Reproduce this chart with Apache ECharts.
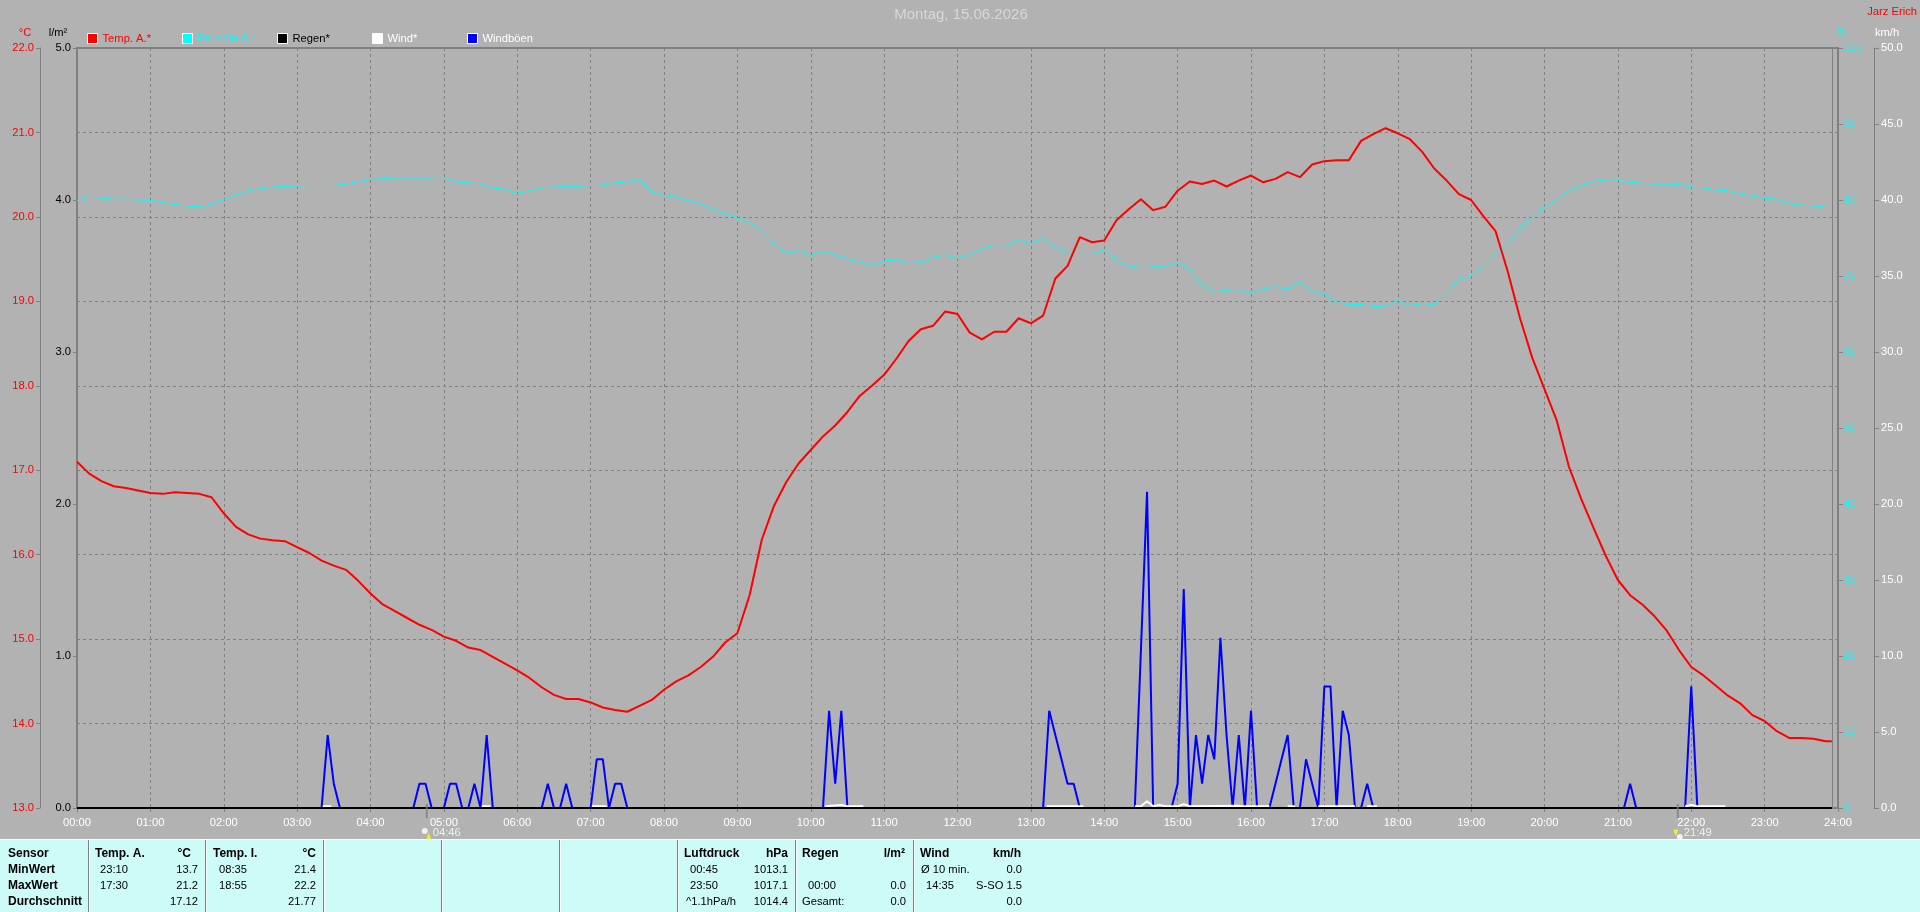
<!DOCTYPE html>
<html>
<head>
<meta charset="utf-8">
<title>Wetter</title>
<style>html,body{margin:0;padding:0;background:#b2b2b2}#c{width:1920px;height:912px}</style>
<script src="https://cdn.jsdelivr.net/npm/echarts@6/dist/echarts.min.js"></script>
</head>
<body>
<div id="c"></div>
<script>
const sampleMinutes = Array.from({length:144},(_,i)=>i*10).concat(1435);
const temperature = [
17.10,16.96,16.87,16.81,16.79,16.76,
16.73,16.72,16.74,16.73,16.72,16.68,
16.49,16.33,16.24,16.19,16.17,16.16,
16.09,16.02,15.93,15.87,15.82,15.69,
15.54,15.41,15.33,15.25,15.17,15.11,
15.03,14.98,14.90,14.87,14.79,14.71,
14.63,14.54,14.43,14.34,14.29,14.29,
14.25,14.19,14.16,14.14,14.21,14.28,
14.40,14.50,14.57,14.67,14.79,14.96,
15.07,15.52,16.18,16.58,16.86,17.08,
17.24,17.40,17.53,17.69,17.88,18.00,
18.13,18.32,18.53,18.67,18.71,18.88,
18.85,18.63,18.55,18.64,18.64,18.80,
18.74,18.83,19.27,19.42,19.76,19.70,
19.72,19.96,20.09,20.21,20.08,20.12,
20.31,20.42,20.39,20.43,20.36,20.43,
20.49,20.41,20.45,20.53,20.47,20.62,
20.66,20.67,20.67,20.90,20.98,21.05,
20.99,20.92,20.77,20.57,20.43,20.27,
20.20,20.01,19.83,19.35,18.80,18.33,
17.96,17.59,17.04,16.66,16.32,15.99,
15.70,15.52,15.41,15.27,15.10,14.87,
14.67,14.57,14.45,14.33,14.24,14.10,
14.03,13.91,13.83,13.83,13.82,13.79,13.79];
const humidity = [
79.96,80.35,80.25,80.1,80.1,80.0,
79.96,79.67,79.4,79.2,79.1,79.4,
80.0,80.6,81.2,81.5,81.7,81.8,
81.85,81.9,81.9,81.9,82.1,82.4,
82.7,82.8,82.9,82.9,82.9,82.9,
83.0,82.4,82.25,82.15,81.6,81.4,
80.85,81.2,81.6,81.7,81.8,81.8,
81.9,81.95,82.25,82.4,82.7,81.1,
80.6,80.35,79.91,79.43,78.79,78.11,
77.63,77.0,76.02,74.22,72.95,73.34,
72.66,73.24,72.76,72.17,71.88,71.35,
71.98,72.12,71.64,71.73,72.47,72.76,
72.37,72.76,73.58,74.02,73.97,74.7,
74.22,74.95,73.83,72.95,72.95,72.95,
73.44,72.12,71.15,71.39,71.3,71.15,
71.78,70.81,68.86,67.89,68.13,68.23,
67.64,68.3,68.58,68.3,69.24,68.03,
67.58,66.48,66.25,66.25,65.98,66.03,
66.81,66.09,66.37,66.25,67.64,69.58,
69.97,71.24,72.9,74.12,76.22,77.72,
79.1,79.93,81.21,81.87,82.43,82.65,
82.65,82.31,82.2,82.09,82.09,82.04,
81.71,81.6,81.32,81.21,80.76,80.49,
80.21,80.1,79.55,79.32,79.21,79.05,79.0];
const rainTimes = ['00:00','23:55'];
const rainValues = [0,0];
const gustTimes = [
'03:20','03:25','03:30','03:35',
'04:35','04:40','04:45','04:50',
'05:00','05:05','05:10','05:15','05:20','05:25','05:30','05:35','05:40',
'06:20','06:25','06:30','06:35','06:40','06:45',
'07:00','07:05','07:10','07:15','07:20','07:25','07:30',
'10:10','10:15','10:20','10:25','10:30',
'13:10','13:15','13:20','13:25','13:30','13:35','13:40',
'14:25','14:30','14:35','14:40',
'14:55','15:00','15:05','15:10','15:15','15:20','15:25','15:30','15:35','15:40','15:45','15:50','15:55','16:00','16:05',
'16:15','16:20','16:25','16:30','16:35',
'16:40','16:45','16:50','16:55','17:00','17:05','17:10','17:15','17:20','17:25',
'17:30','17:35','17:40',
'21:05','21:10','21:15',
'21:55','22:00','22:05'];
const gustValues = [
0,4.8,1.6,0,
0,1.6,1.6,0,
0,1.6,1.6,0,0,1.6,0,4.8,0,
0,1.6,0,0,1.6,0,
0,3.2,3.2,0,1.6,1.6,0,
0,6.4,1.6,6.4,0,
0,6.4,4.8,3.2,1.6,1.6,0,
0,10.4,20.8,0,
0,1.6,14.4,0,4.8,1.6,4.8,3.2,11.2,4.8,0,4.8,0,6.4,0,
0,1.6,3.2,4.8,0,
0,3.2,1.6,0,8,8,0,6.4,4.8,0,
0,1.6,0,
0,1.6,0,
0,8,0];
const windTimes = ['03:21','03:28','03:29','05:31','05:38','05:39','07:01','07:13','07:14',
'10:12','10:25','10:30','10:43','10:44','13:13','13:43','13:44',
'14:25','14:30','14:35','14:40','14:45','14:50','15:00','15:05','15:10','15:50','15:52','15:55','16:15','16:16',
'16:30','16:36','16:37','16:55','17:25','17:26','17:35','17:43','17:44','21:55','22:00','22:05','22:28'];
const windValues = [0.12,0.12,null,0.12,0.12,null,0.12,0.12,null,
0.12,0.2,0.12,0.12,null,0.12,0.12,null,
0.12,0.12,0.45,0.12,0.2,0.12,0.12,0.25,0.12,0.15,0.12,0.12,0.12,null,
0.12,0.12,null,0.12,0.12,null,0.12,0.12,null,0.12,0.2,0.12,0.12];
const sunEventTimes = ['04:46','21:49'];
const hourTicks = 60;

const legendNames = ['Temp. A.*','Feuchte A.*','Regen*','Wind*','Windböen'];
const legendColors = ['#ff0000','#00ffff','#000000','#ffffff','#0000ff'];
const legendTextColors = ['#ff0000','#00ffff','#000000','#ffffff','#ffffff'];

const sensorColumn = ['Sensor','MinWert','MaxWert','Durchschnitt'];
const tempAHeader = ['Temp. A.','°C'], tempATimes = ['23:10','17:30',''], tempAValues = ['13.7','21.2','17.12'];
const tempIHeader = ['Temp. I.','°C'], tempITimes = ['08:35','18:55',''], tempIValues = ['21.4','22.2','21.77'];
const pressHeader = ['Luftdruck','hPa'], pressTimes = ['00:45','23:50','^1.1hPa/h'], pressValues = ['1013.1','1017.1','1014.4'];
const rainHeader = ['Regen','l/m²'], rainTableTimes = ['','00:00','Gesamt:'], rainTableValues = ['','0.0','0.0'];
const windHeader = ['Wind','km/h'], windTableTimes = ['Ø 10 min.','14:35',''], windTableValues = ['0.0','S-SO 1.5','0.0'];

const FONT = '"Liberation Sans",Arial,sans-serif';
const FS = 11.2;
const GREY = '#808080', BG = '#b2b2b2', PANEL = '#ccfbf8';

const toMin = t => { const [h,m]=t.split(':').map(Number); return h*60+m; };
const pad = n => String(n).padStart(2,'0');
const pairs = (xs,ys) => xs.map((x,i)=>[typeof x==='string'?toMin(x):x, ys[i]]);

function txt(text,x,y,opts){
  return Object.assign({type:'text',silent:true,style:Object.assign({text,x,y,fill:'#000',font:FS+'px '+FONT,textAlign:'left',textVerticalAlign:'middle'},opts||{})});
}
const rowY=[854,870,886,902];
function block(left,right,header,times,timeXs,values,valRight){
  const out=[];
  out.push(txt(header[0],left,rowY[0],{font:'bold 12px '+FONT}));
  out.push(txt(header[1],right,rowY[0],{font:'bold 12px '+FONT,textAlign:'right'}));
  times.forEach((t,i)=>{ if(t) out.push(txt(t,timeXs[i],rowY[i+1])); });
  values.forEach((v,i)=>{ if(v) out.push(txt(v,valRight,rowY[i+1],{textAlign:'right'})); });
  return out;
}
const dividers=[88,205,323,441,559,677,795,913];
const panelChildren=[
  {type:'rect',shape:{x:0,y:839,width:1920,height:73},style:{fill:PANEL}},
  {type:'rect',shape:{x:0,y:839,width:1920,height:1},style:{fill:'#ffffff'}},
  ...dividers.map(x=>({type:'rect',shape:{x,y:840,width:1,height:72},style:{fill:GREY}})),
  ...dividers.map(x=>({type:'rect',shape:{x:x+1,y:840,width:1,height:72},style:{fill:'#ffffff'}})),
  ...sensorColumn.map((s,i)=>txt(s,8,rowY[i],{font:'bold 12px '+FONT})),
  ...block(95,191,tempAHeader,tempATimes,[100,100,100],tempAValues,198),
  ...block(213,316,tempIHeader,tempITimes,[219,219,219],tempIValues,316),
  ...block(684,788,pressHeader,pressTimes,[690,690,686],pressValues,788),
  ...block(802,905,rainHeader,rainTableTimes,[808,808,802],rainTableValues,906),
  ...block(920,1021,windHeader,windTableTimes,[921,926,921],windTableValues,1022)
];
const headerTexts=[
  txt('Montag, 15.06.2026',961,15,{font:'15px '+FONT,fill:'#d8d8d8',textAlign:'center'}),
  txt('Jarz Erich',1917,12,{fill:'#ff0000',textAlign:'right'}),
  txt('°C',25,33,{fill:'#ff0000',textAlign:'center'}),
  txt('l/m²',58,33,{fill:'#000',textAlign:'center'}),
  txt('%',1842,33,{fill:'#00ffff',textAlign:'center'}),
  txt('km/h',1887,33,{fill:'#ffffff',textAlign:'center'})
];

const legendLeft=[87,182,277,372,467];
const sharedLine={type:'line',showSymbol:false,symbol:'none',animation:false,silent:true};

const option={
  backgroundColor:BG,
  animation:false,
  textStyle:{fontFamily:FONT},
  grid:{left:77,right:82,top:48,height:760,containLabel:false},
  legend:legendNames.map((n,i)=>({
    data:[n],left:legendLeft[i],top:33,icon:'rect',itemWidth:10,itemHeight:10,itemGap:5,padding:0,selectedMode:false,
    itemStyle:{color:legendColors[i],borderColor:'#fff',borderWidth:1},
    textStyle:{color:legendTextColors[i],fontSize:FS,fontFamily:FONT,padding:[1,0,0,0]}
  })),
  xAxis:[
    {type:'value',min:0,max:1440,interval:hourTicks,position:'bottom',
     axisLine:{show:true,onZero:false,lineStyle:{color:GREY,width:2}},
     axisTick:{show:true,length:4,lineStyle:{color:GREY,width:1}},
     axisLabel:{color:'#fff',fontSize:FS,fontFamily:FONT,margin:9,showMinLabel:true,showMaxLabel:true,hideOverlap:false,
       formatter:v=>pad(Math.floor(v/60))+':00'},
     splitLine:{show:true,lineStyle:{color:GREY,type:[3,3],width:1}}},
    {type:'value',min:0,max:1440,interval:hourTicks,position:'top',
     axisLine:{show:true,onZero:false,lineStyle:{color:GREY,width:2}},
     axisTick:{show:false},axisLabel:{show:false},splitLine:{show:false}}
  ],
  yAxis:[
    {type:'value',min:13,max:22,interval:1,position:'left',offset:37,
     axisLine:{show:true,onZero:false,lineStyle:{color:GREY,width:1}},
     axisTick:{show:true,length:4,lineStyle:{color:GREY}},
     axisLabel:{color:'#ff0000',fontSize:FS,fontFamily:FONT,margin:6,formatter:v=>v.toFixed(1)},
     splitLine:{show:true,lineStyle:{color:GREY,type:[3,3],width:1}}},
    {type:'value',min:0,max:5,interval:1,position:'left',offset:0,
     axisLine:{show:true,onZero:false,lineStyle:{color:GREY,width:2}},
     axisTick:{show:true,length:4,lineStyle:{color:GREY}},
     axisLabel:{color:'#000',fontSize:FS,fontFamily:FONT,margin:6,formatter:v=>v.toFixed(1)},
     splitLine:{show:false}},
    {type:'value',min:0,max:100,interval:10,position:'right',offset:0,
     axisLine:{show:true,onZero:false,lineStyle:{color:GREY,width:2}},
     axisTick:{show:true,length:5,lineStyle:{color:GREY}},
     axisLabel:{color:'#00ffff',fontSize:FS,fontFamily:FONT,margin:6},
     splitLine:{show:false}},
    {type:'value',min:0,max:50,interval:5,position:'right',offset:36,
     axisLine:{show:true,onZero:false,lineStyle:{color:GREY,width:1}},
     axisTick:{show:true,length:5,lineStyle:{color:GREY}},
     axisLabel:{color:'#fff',fontSize:FS,fontFamily:FONT,margin:7,formatter:v=>v.toFixed(1)},
     splitLine:{show:false}}
  ],
  series:[
    Object.assign({},sharedLine,{name:legendNames[1],yAxisIndex:2,z:3,data:pairs(sampleMinutes,humidity),
      lineStyle:{color:'#00ffff',width:1},itemStyle:{color:'#00ffff'}}),
    Object.assign({},sharedLine,{name:legendNames[0],yAxisIndex:0,z:4,data:pairs(sampleMinutes,temperature),
      lineStyle:{color:'#ff0000',width:2},itemStyle:{color:'#ff0000'}}),
    Object.assign({},sharedLine,{name:legendNames[4],yAxisIndex:3,z:5,clip:false,data:pairs(gustTimes,gustValues),
      lineStyle:{color:'#0000ff',width:2},itemStyle:{color:'#0000ff'}}),
    Object.assign({},sharedLine,{name:legendNames[3],yAxisIndex:3,z:6,clip:false,connectNulls:false,data:pairs(windTimes,windValues),
      lineStyle:{color:'#ffffff',width:2},itemStyle:{color:'#ffffff'}}),
    Object.assign({},sharedLine,{name:legendNames[2],yAxisIndex:1,z:7,clip:false,data:pairs(rainTimes,rainValues),
      lineStyle:{color:'#000000',width:2},itemStyle:{color:'#000000'},
      markLine:{silent:true,symbol:'none',animation:false,label:{show:false},
        lineStyle:{color:GREY,type:'solid',width:1},data:[{xAxis:toMin(rainTimes[1])}]}}),
    {type:'scatter',name:'Sonnenzeiten',yAxisIndex:1,z:8,clip:false,silent:true,animation:false,
     symbol:'rect',symbolSize:[2,14],symbolOffset:[0,3],itemStyle:{color:GREY},
     data:sunEventTimes.map(t=>[toMin(t),0]),
     label:{show:true,position:'right',distance:0,offset:[5,22],color:'#fff',fontSize:FS,fontFamily:FONT,
       formatter:p=>sunEventTimes[p.dataIndex]}},
    {type:'scatter',name:'Sonne',yAxisIndex:1,z:8,clip:false,silent:true,animation:false,
     symbol:'circle',symbolSize:6,itemStyle:{color:'#ffffff'},
     data:[{value:[toMin(sunEventTimes[0]),0],symbolOffset:[-2,23]},{value:[toMin(sunEventTimes[1]),0],symbolOffset:[2,29]}]},
    {type:'scatter',name:'Pfeil',yAxisIndex:1,z:8,clip:false,silent:true,animation:false,
     symbol:'triangle',symbolSize:[5,7],itemStyle:{color:'#ffff00'},
     data:[{value:[toMin(sunEventTimes[0]),0],symbolOffset:[2,28]},{value:[toMin(sunEventTimes[1]),0],symbolRotate:180,symbolOffset:[-2,25]}]}
  ],
  graphic:[
    {type:'group',z:1,silent:true,children:panelChildren},
    {type:'group',z:1,silent:true,children:headerTexts}
  ]
};
const chart=echarts.init(document.getElementById('c'),null,{renderer:'canvas',width:1920,height:912});
chart.setOption(option);
</script>
</body>
</html>
